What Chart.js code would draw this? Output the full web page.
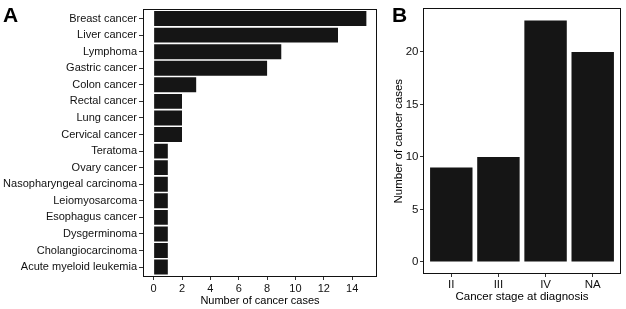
<!DOCTYPE html>
<html><head><meta charset="utf-8">
<script src="https://cdn.jsdelivr.net/npm/chart.js@4.4.0/dist/chart.umd.min.js"></script>
<style>
html,body{margin:0;padding:0;background:#fff;width:626px;height:309px;overflow:hidden;}
#wa{position:absolute;left:0;top:0;width:380px;height:309px;}
#wb{position:absolute;left:380px;top:0;width:246px;height:309px;}
.lbl{position:absolute;font-family:"Liberation Sans",Arial,sans-serif;font-weight:bold;font-size:21px;line-height:1;color:#000;}
</style></head><body>
<div id="wa"><canvas id="ca" width="380" height="309"></canvas></div>
<div id="wb"><canvas id="cb" width="246" height="309"></canvas></div>
<div class="lbl" style="left:3px;top:4px">A</div>
<div class="lbl" style="left:392px;top:4px">B</div>
<script>
const cancerTypes = ['Breast cancer','Liver cancer','Lymphoma','Gastric cancer','Colon cancer','Rectal cancer','Lung cancer','Cervical cancer','Teratoma','Ovary cancer','Nasopharyngeal carcinoma','Leiomyosarcoma','Esophagus cancer','Dysgerminoma','Cholangiocarcinoma','Acute myeloid leukemia'];
const cancerCases = [15,13,9,8,3,2,2,2,1,1,1,1,1,1,1,1];
const caseTicks = [0,2,4,6,8,10,12,14];
const stages = ['II','III','IV','NA'];
const stageCases = [9,10,23,20];
const stageTicks = [0,5,10,15,20];

const FAM = '"Liberation Sans", Arial, Helvetica, sans-serif';
const BAR = '#151515';
const framePlugin = {id:'frame', afterDraw(chart){
  const {ctx, chartArea:a} = chart;
  ctx.save(); ctx.strokeStyle='#111'; ctx.lineWidth=1;
  ctx.strokeRect(Math.round(a.left)+0.5, Math.round(a.top)+0.5, Math.round(a.right-a.left)-1, Math.round(a.bottom-a.top)-1);
  ctx.restore();
}};

new Chart(document.getElementById('ca'), {
  type:'bar',
  data:{datasets:[{data: cancerCases.map((v,i)=>({x:v,y:i})), backgroundColor:BAR, borderWidth:0, barPercentage:0.9, categoryPercentage:1}]},
  options:{indexAxis:'y', responsive:false, animation:false, events:[], devicePixelRatio:1,
    layout:{padding:{top:5,right:3,left:0,bottom:0}},
    plugins:{legend:{display:false}, tooltip:{enabled:false}},
    scales:{
      x:{type:'linear', position:'bottom', min:-0.75, max:15.75, offset:false,
        afterBuildTicks(s){ s.ticks = caseTicks.map(v=>({value:v})); },
        afterFit(s){ s.height = 32; },
        grid:{offset:false, drawOnChartArea:false, drawTicks:true, tickLength:3, tickColor:'#333'},
        border:{display:false},
        ticks:{font:{family:FAM,size:11}, color:'#111', padding:2, maxRotation:0, autoSkip:false},
        title:{display:true, text:'Number of cancer cases', font:{family:FAM,size:11}, color:'#000', padding:{top:0,bottom:1.5}}
      },
      y:{type:'linear', position:'left', min:-0.6, max:15.6, reverse:true, offset:false,
        afterBuildTicks(s){ s.ticks = cancerTypes.map((_,i)=>({value:i})); },
        afterFit(s){ s.width = 143; },
        grid:{offset:false, drawOnChartArea:false, drawTicks:true, tickLength:4, tickColor:'#333'},
        border:{display:false},
        ticks:{callback:(v)=>cancerTypes[v], font:{family:FAM,size:11}, color:'#111', padding:2, autoSkip:false}
      }
    }
  },
  plugins:[framePlugin]
});

new Chart(document.getElementById('cb'), {
  type:'bar',
  data:{datasets:[{data: stageCases.map((v,i)=>({x:i,y:v})), backgroundColor:BAR, borderWidth:0, barPercentage:0.9, categoryPercentage:1}]},
  options:{responsive:false, animation:false, events:[], devicePixelRatio:1,
    layout:{padding:{top:4,right:5,left:0,bottom:0}},
    plugins:{legend:{display:false}, tooltip:{enabled:false}},
    scales:{
      x:{type:'linear', position:'bottom', min:-0.6, max:3.6, offset:false,
        afterBuildTicks(s){ s.ticks = stages.map((_,i)=>({value:i})); },
        afterFit(s){ s.height = 35; },
        grid:{offset:false, drawOnChartArea:false, drawTicks:true, tickLength:3, tickColor:'#333'},
        border:{display:false},
        ticks:{callback:(v)=>stages[v], font:{family:FAM,size:11.5}, color:'#111', padding:1, maxRotation:0, autoSkip:false},
        title:{display:true, text:'Cancer stage at diagnosis', font:{family:FAM,size:11.5}, color:'#000', padding:{top:0,bottom:5}}
      },
      y:{type:'linear', position:'left', min:-1.15, max:24.15, offset:false,
        afterBuildTicks(s){ s.ticks = stageTicks.map(v=>({value:v})); },
        afterFit(s){ s.width = 43; },
        grid:{offset:false, drawOnChartArea:false, drawTicks:true, tickLength:3, tickColor:'#333'},
        border:{display:false},
        ticks:{font:{family:FAM,size:11.5}, color:'#111', padding:1.5, autoSkip:false},
        title:{display:true, text:'Number of cancer cases', font:{family:FAM,size:11.5}, color:'#000', padding:{top:12,bottom:0}}
      }
    }
  },
  plugins:[framePlugin]
});
</script>
</body></html>
